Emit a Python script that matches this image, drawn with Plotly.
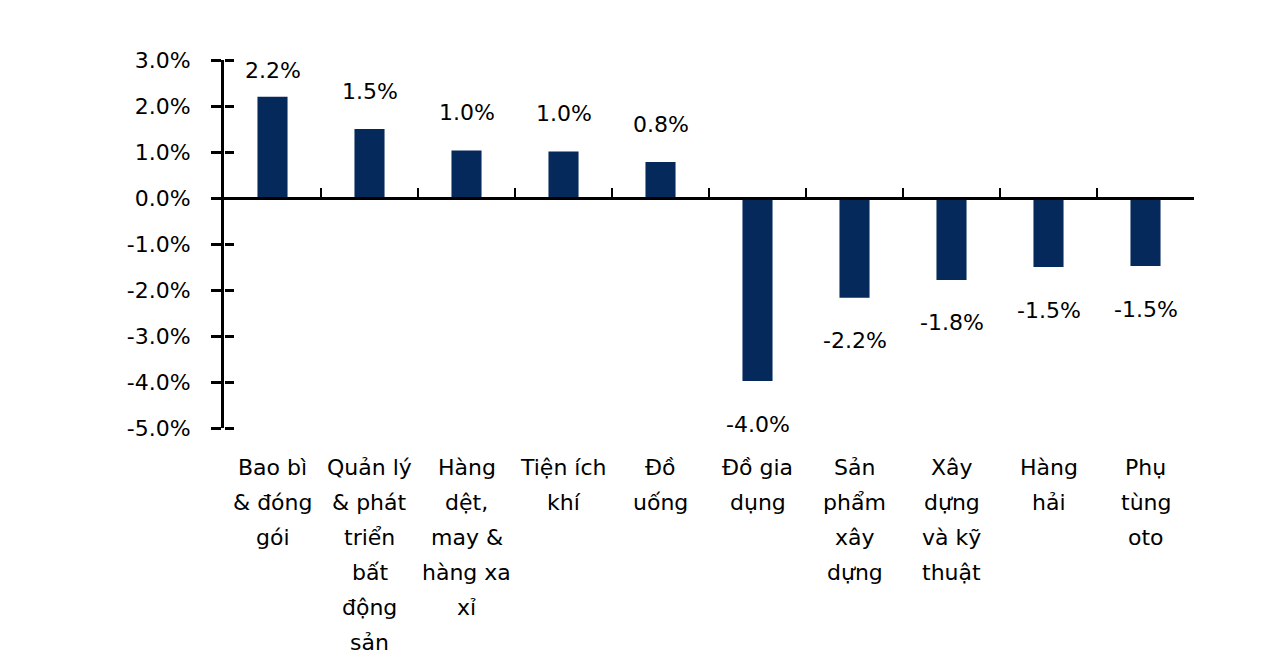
import plotly.graph_objects as go

categories = [
    "Bao bì & đóng gói",
    "Quản lý & phát triển bất động sản",
    "Hàng dệt, may & hàng xa xỉ",
    "Tiện ích khí",
    "Đồ uống",
    "Đồ gia dụng",
    "Sản phẩm xây dựng",
    "Xây dựng và kỹ thuật",
    "Hàng hải",
    "Phụ tùng oto",
]
label_lines = [
    ["Bao bì", "& đóng", "gói"],
    ["Quản lý", "& phát", "triển", "bất", "động", "sản"],
    ["Hàng", "dệt,", "may &", "hàng xa", "xỉ"],
    ["Tiện ích", "khí"],
    ["Đồ", "uống"],
    ["Đồ gia", "dụng"],
    ["Sản", "phẩm", "xây", "dựng"],
    ["Xây", "dựng", "và kỹ", "thuật"],
    ["Hàng", "hải"],
    ["Phụ", "tùng", "oto"],
]
values = [2.2, 1.5, 1.03, 1.01, 0.78, -3.98, -2.17, -1.78, -1.5, -1.48]
y_ticks = [-5, -4, -3, -2, -1, 0, 1, 2, 3]
y_tick_text = [f"{t:.1f}%" for t in y_ticks]
y_range = [-5, 3]

FONT = "DejaVu Sans"
FS = 22
BAR_COLOR = "#04295A"

fig = go.Figure()
fig.add_trace(go.Bar(
    x=categories, y=values, width=0.31,
    marker=dict(color=BAR_COLOR, line=dict(width=0)),
    xaxis="x", yaxis="y", showlegend=False, hoverinfo="skip",
))
# empty helper traces so the overlay axes (zero line with ticks, crossing y ticks) are drawn
fig.add_trace(go.Scatter(x=[None], y=[None], xaxis="x2", yaxis="y",
                         showlegend=False, hoverinfo="skip", mode="markers"))
fig.add_trace(go.Scatter(x=[None], y=[None], xaxis="x", yaxis="y2",
                         showlegend=False, hoverinfo="skip", mode="markers"))

annotations = []
for c, v in zip(categories, values):
    if v >= 0:
        shift = min(38, (y_range[1] - v) * 46 - 10)
    else:
        shift = -43
    annotations.append(dict(
        x=c, y=v, xref="x", yref="y", text=f"{v:.1f}%", showarrow=False,
        yanchor="middle", yshift=shift, font=dict(family=FONT, size=FS, color="black"),
    ))
for c, lines in zip(categories, label_lines):
    for j, ln in enumerate(lines):
        annotations.append(dict(
            x=c, y=0, xref="x", yref="paper", text=ln, showarrow=False,
            yanchor="middle", yshift=-(39 + 35 * j),
            font=dict(family=FONT, size=FS, color="black"),
        ))

n = len(categories)
zero_pos = (0 - y_range[0]) / (y_range[1] - y_range[0])

fig.update_layout(
    width=1284, height=659,
    margin=dict(l=224, r=90, t=60, b=231),
    paper_bgcolor="white", plot_bgcolor="white",
    font=dict(family=FONT, size=FS, color="black"),
    xaxis=dict(type="category", range=[-0.5, n - 0.5], showticklabels=False,
               showline=False, ticks="", showgrid=False, zeroline=False),
    xaxis2=dict(overlaying="x", anchor="free", position=zero_pos, type="linear",
                range=[-0.5, n - 0.5], tickmode="array",
                tickvals=[i + 0.5 for i in range(n)],
                ticks="inside", ticklen=9, tickwidth=2, tickcolor="black",
                showline=True, linewidth=3, linecolor="black",
                showticklabels=False, showgrid=False, zeroline=False),
    yaxis=dict(range=y_range, tickmode="array", tickvals=y_ticks, ticktext=y_tick_text,
               ticks="outside", ticklen=10, tickwidth=3, tickcolor="black",
               showline=True, linewidth=3, linecolor="black",
               showgrid=False, zeroline=False, ticklabelstandoff=16,
               tickfont=dict(family=FONT, size=FS, color="black")),
    yaxis2=dict(overlaying="y", anchor="free", position=0, side="right", range=y_range,
                tickmode="array", tickvals=y_ticks,
                ticks="outside", ticklen=9, tickwidth=3, tickcolor="black",
                showticklabels=False, showline=False, showgrid=False, zeroline=False),
    annotations=annotations,
)

fig.write_html("out.html")
